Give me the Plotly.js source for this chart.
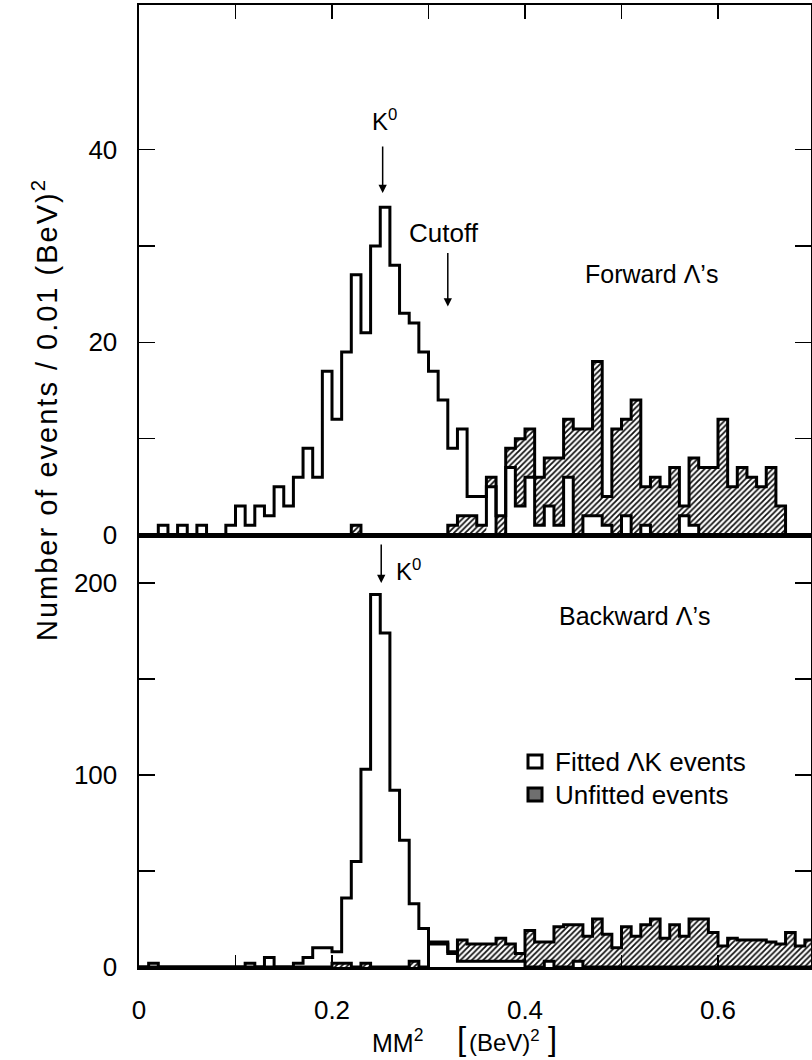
<!DOCTYPE html>
<html><head><meta charset="utf-8">
<script src="https://cdn.plot.ly/plotly-3.0.1.min.js"></script>
<style>html,body{margin:0;padding:0;background:#fff}#chart{width:812px;height:1060px}</style>
</head><body><div id="chart"></div>
<script>
// ---- data: counts per 0.01 (BeV)^2 bin, bins start at 0.00 ----
const binStart = 0.0;
const binWidth = 0.01;
const fittedForward = [0,0,1,0,1,0,1,0,0,1, 3,1,3,2,5,3,6,9,6,17, 12,19,27,21,30,34,28,23,22,19,
  17,14,9,11,4,4,5,0,7,3, 6,1,3,1,6,0,2,2,1,0, 2,0,1,0,0,0,2,1,0,0, 0,0,0,0,0,0,0,0,0,0];
const unfittedForward = [0,0,0,0,0,0,0,0,0,0, 0,0,0,0,0,0,0,0,0,0, 0,0,1,0,0,0,0,0,0,0,
  0,0,1,2,2,1,6,2,9,10, 11,6,8,8,12,11,11,18,4,11, 12,14,5,6,5,7,3,8,7,7, 12,5,7,6,5,7,3,0,0,0];
const fittedBackward = [0,2,0,0,0,0,0,0,0,0, 0,2,0,5,0,0,2,5,10,10, 8,36,55,103,194,174,92,66,33,20,
  12,12,7,3,3,3,3,3,3,3, 0,0,3,0,0,3,0,0,0,0, 0,0,0,0,0,0,0,0,0,0, 0,0,0,0,0,0,0,0,0,0];
const unfittedBackward = [0,0,0,0,0,0,0,0,0,0, 0,0,0,0,0,0,0,0,0,0, 2,2,0,2,0,0,0,0,3,0,
  13,13,8,14,12,12,12,15,12,7, 19,13,13,21,22,22,16,25,17,10, 21,16,22,25,15,22,16,25,25,18,
  11,15,14,14,14,13,12,18,11,14];

const xTickVals = [0,0.1,0.2,0.3,0.4,0.5,0.6];
const xTickText = ['0','','0.2','','0.4','','0.6'];
const yTickValsF = [0,10,20,30,40];
const yTickTextF = ['0','','20','','40'];
const yTickValsB = [0,50,100,150,200];
const yTickTextB = ['0','','100','','200'];

// ---- step construction from bins ----
function stepXY(counts){
  const x = [binStart], y = [0];
  counts.forEach((c,i)=>{ x.push(+(binStart + i*binWidth).toFixed(4)); y.push(c); });
  x.push(+(binStart + counts.length*binWidth).toFixed(4)); y.push(0);
  return {x, y};
}
// white (fitted) area visible only where fitted boxes sit under the hatched region
function underHatch(f,u){ return f.map((v,i)=> v < u[i] ? v : 0); }

const FONT = 'Liberation Sans, Arial, sans-serif';
const pattern = {shape:'/', fgcolor:'#111', bgcolor:'#fff', size:4, solidity:0.45, fillmode:'replace'};

function panel(fit, unf, xa, ya){
  const u = stepXY(unf), w = stepXY(underHatch(fit, unf)), f = stepXY(fit);
  return [
    {x:u.x, y:u.y, xaxis:xa, yaxis:ya, type:'scatter', mode:'lines', line:{shape:'hv', width:0, color:'rgba(0,0,0,0)'},
     fill:'tozeroy', fillpattern:pattern, fillcolor:'#fff', hoverinfo:'skip'},
    {x:w.x, y:w.y, xaxis:xa, yaxis:ya, type:'scatter', mode:'lines', line:{shape:'hv', width:0, color:'rgba(0,0,0,0)'},
     fill:'tozeroy', fillcolor:'#fff', hoverinfo:'skip'},
    {x:u.x, y:u.y, xaxis:xa, yaxis:ya, type:'scatter', mode:'lines', line:{shape:'hv', width:3, color:'#000'}, name:'Unfitted events'},
    {x:f.x, y:f.y, xaxis:xa, yaxis:ya, type:'scatter', mode:'lines', line:{shape:'hv', width:3, color:'#000'}, name:'Fitted ΛK events'}
  ];
}

const traces = [...panel(fittedForward, unfittedForward, 'x', 'y'),
                ...panel(fittedBackward, unfittedBackward, 'x2', 'y2')];

// pixel helpers for annotations
const L = 139, R = 811, T = 5, B = 967;
const fx = px => (px - L)/(R - L);
const fy = py => (B - py)/(B - T);
const split = (B - 535)/(B - T);

const txt = (text, px, py, size, xanchor) => ({text, x:fx(px), y:fy(py), xref:'paper', yref:'paper',
  showarrow:false, xanchor:xanchor||'center', yanchor:'middle', font:{family:FONT, size:size||24, color:'#000'}});
const arrow = (x, y, xr, yr, ay) => ({text:'', x, y, xref:xr, yref:yr, ax:0, ay, axref:'pixel', ayref:'pixel',
  showarrow:true, arrowhead:2, arrowsize:1.1, arrowwidth:1.5, arrowcolor:'#000'});

const axisCommon = {showline:true, linewidth:2.5, linecolor:'#000', showgrid:false, zeroline:false,
  ticks:'inside', tickcolor:'#000', tickwidth:1.5, tickfont:{family:FONT, size:26, color:'#000'}, fixedrange:true};

const layout = {
  width:812, height:1060, margin:{l:L, r:812-R, t:T, b:1060-B},
  paper_bgcolor:'#fff', plot_bgcolor:'#fff', showlegend:false,
  font:{family:FONT, color:'#000'},
  xaxis: Object.assign({}, axisCommon, {anchor:'y', side:'top', range:[0,(R-L)/965], tickvals:xTickVals,
    showticklabels:false, ticklen:14, mirror:true}),
  yaxis: Object.assign({}, axisCommon, {anchor:'x', domain:[split,1], range:[0,55], tickvals:yTickValsF,
    ticktext:yTickTextF, ticklen:16, mirror:'ticks', ticklabelstandoff:14}),
  xaxis2: Object.assign({}, axisCommon, {anchor:'y2', range:[0,(R-L)/965], tickvals:xTickVals, ticktext:xTickText,
    ticklen:12, mirror:true, ticklabelstandoff:18}),
  yaxis2: Object.assign({}, axisCommon, {anchor:'x2', domain:[0,split], range:[0,225], tickvals:yTickValsB,
    ticktext:yTickTextB, ticklen:16, mirror:'ticks', ticklabelstandoff:14}),
  annotations:[
    Object.assign(txt('<span style="letter-spacing:2px">Number of events / 0.01 (BeV)<sup>2</sup></span>', 45, 410, 29), {textangle:-90}),
    txt('MM<sup>2</sup>', 397, 1041, 25),
    txt('[', 461, 1038, 33),
    txt('(BeV)<sup>2</sup>', 505, 1041, 24),
    txt(']', 552, 1038, 33),
    txt('K<sup>0</sup>', 384, 120, 24),
    arrow(0.2525, 35.5, 'x', 'y', -48),
    txt('Cutoff', 444, 233, 26),
    arrow(0.32, 23.7, 'x', 'y', -55),
    txt('Forward Λ’s', 651, 274, 25),
    arrow(0.251, 200, 'x2', 'y2', -40),
    txt('K<sup>0</sup>', 394, 570, 24, 'left'),
    txt('Backward Λ’s', 634, 616, 25),
    txt('Fitted ΛK events', 553, 762, 26, 'left'),
    txt('Unfitted events', 553, 795, 26, 'left')
  ],
  shapes:[
    {type:'rect', xref:'paper', yref:'paper', x0:fx(528), x1:fx(542), y0:fy(768), y1:fy(755), line:{color:'#000', width:3}, fillcolor:'#fff'},
    {type:'rect', xref:'paper', yref:'paper', x0:fx(528), x1:fx(542), y0:fy(801), y1:fy(788), line:{color:'#000', width:3}, fillcolor:'#6f6f6f'}
  ]
};

Plotly.newPlot('chart', traces, layout, {displayModeBar:false, staticPlot:true});
</script></body></html>
